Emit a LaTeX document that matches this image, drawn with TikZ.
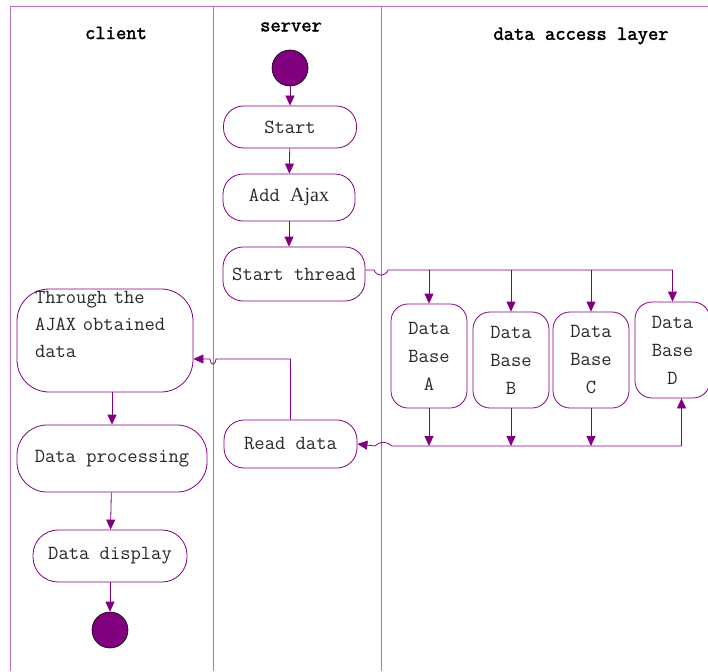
\documentclass[tikz,border=0pt]{standalone}
\usepackage{fontspec}
\newfontfamily\ajaxfont{Liberation Serif}
\newfontfamily\headfont[AutoFakeBold=2]{Latin Modern Mono}
\usetikzlibrary{arrows.meta}
\definecolor{flowpurple}{RGB}{128,0,128}
\definecolor{lanepurple}{RGB}{180,110,190}
\definecolor{inkgray}{RGB}{40,40,40}
\tikzset{
  lane/.style={draw=lanepurple, line width=0.9pt},
  actbox/.style={draw=flowpurple, line width=0.8pt, rounded corners=20pt, text=inkgray,
    font=\ttfamily\fontsize{20}{27}\selectfont, inner sep=0pt},
  dbbox/.style={actbox, rounded corners=17pt, align=center, font=\ttfamily\fontsize{20}{28}\selectfont},
  flow/.style={draw=flowpurple, line width=0.8pt, -{Triangle[length=10pt,width=9pt]}},
  dot/.style={circle, fill=flowpurple, draw=black, line width=0.6pt, minimum size=36pt, inner sep=0pt},
  lanehead/.style={font=\headfont\bfseries\fontsize{20}{24}\selectfont, text=black}
}
\begin{document}
\begin{tikzpicture}[x=1pt, y=-1pt]
  \useasboundingbox (0,0) rectangle (708,671);
  % lanes
  \draw[lane] (708,6) -- (10,6) -- (10,671);
  \draw[lane] (213,6) -- (213,671);
  \draw[lane] (381,6) -- (381,671);
  \node[lanehead] (hclient) at (116,33) {client};
  \node[lanehead] (hserver) at (291,27) {server};
  \node[lanehead] (hdata) at (581,36) {data access layer};

  % server
  \node[dot] (init) at (290,68) {};
  \node[actbox, minimum width=133pt, minimum height=42pt] (start) at (290,127) {Start};
  \node[actbox, minimum width=132pt, minimum height=47pt] (ajax) at (289,197.5) {Add {\ajaxfont Ajax}};
  \node[actbox, minimum width=142pt, minimum height=54pt] (thread) at (294,274) {Start thread};
  \node[actbox, minimum width=133pt, minimum height=48pt] (read) at (290.5,444) {Read data};
  \draw[flow] (init) -- (start);
  \draw[flow] (start) -- (ajax);
  \draw[flow] (ajax) -- (ajax.south |- thread.north);

  % data access layer
  \node[dbbox, minimum width=76pt, minimum height=104pt] (dbA) at (429,356) {Data\\Base\\A};
  \node[dbbox, minimum width=76pt, minimum height=96pt] (dbB) at (511,360) {Data\\Base\\B};
  \node[dbbox, minimum width=76pt, minimum height=96pt] (dbC) at (591,360) {Data\\Base\\C};
  \node[dbbox, minimum width=75pt, minimum height=96pt] (dbD) at (672.5,350) {Data\\Base\\D};
  \coordinate (fork) at (400,270);
  \coordinate (join) at (400,446);
  \draw[flow] ([yshift=4pt]thread.east) -- (374,270) .. controls (377,277) and (385,277) .. (388,270)
    -- (dbD.north |- fork) -- (dbD.north);
  \foreach \db in {dbA,dbB,dbC}
    \draw[flow] (\db.north |- fork) -- (\db.north);
  \foreach \db in {dbA,dbB,dbC}
    \draw[flow] (\db.south) -- (\db.south |- join);
  \draw[flow] ([xshift=9pt]dbD.south |- join) -- ([xshift=9pt]dbD.south);
  \draw[flow] ([xshift=9pt]dbD.south |- join) -- (join) -- (392,446)
    .. controls (386,441) and (380,441) .. (375,446) -- (read.east);

  % client
  \node[actbox, rounded corners=32pt, minimum width=176pt, minimum height=103pt, text width=140pt,
    align=left] (obtain) at (105,340.5) {Through the\\AJAX obtained\\data\\[6pt]\mbox{}};
  \node[actbox, rounded corners=30pt, minimum width=190pt, minimum height=67pt] (process) at (112,458.5) {Data processing};
  \node[actbox, rounded corners=25pt, minimum width=154pt, minimum height=52pt] (display) at (110,556) {Data display};
  \node[dot] (final) at (110,630) {};
  \coordinate (back) at (0,359);
  \draw[flow] (read.north) -- (read.north |- back) -- (216,359) .. controls (215,366) and (211,366) .. (210,359)
    -- (obtain.east |- back);
  \draw[flow] (obtain.south -| process.north) -- (process.north);
  \draw[flow] (process) -- (display);
  \draw[flow] (display) -- (final);
\end{tikzpicture}
\end{document}
